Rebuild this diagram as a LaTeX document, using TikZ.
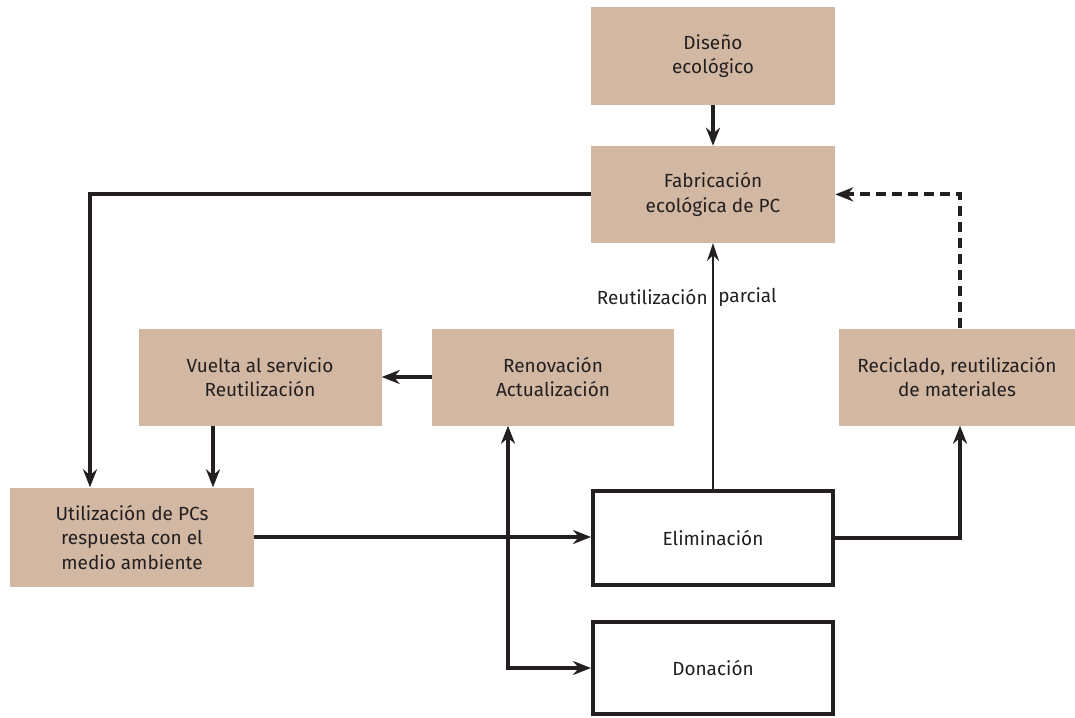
\documentclass[tikz,border=0pt]{standalone}
\usepackage{fontspec}
\setmainfont{Fira Sans}
\usetikzlibrary{positioning,arrows.meta,calc}
\definecolor{tan}{RGB}{210,184,162}
\definecolor{ink}{RGB}{35,31,32}

\begin{document}
\begin{tikzpicture}[
            x=1pt, y=-1pt,
            every node/.style={ align=center, text=ink, font=\fontsize{19}{24.5}\selectfont },
            tanbox/.style={ fill=tan, minimum width=244pt, minimum height=97pt, inner sep=0pt },
            whitebox/.style={ draw=ink, line width=4pt, fill=white, minimum width=240pt, minimum height=94pt, inner sep=0pt },
            arr/.style={ draw=ink, line width=4pt, -{Stealth[length=18pt,width=14pt]} },
            thinarr/.style={ draw=ink, line width=2pt, -{Stealth[length=18pt,width=12pt]} }
        ]
        \useasboundingbox (0,0) rectangle (1075,717);

        \node[tanbox] (dis) at (713,56) {Diseño\\ecológico};
        \node[tanbox, below=41pt of dis] (fab) {Fabricación\\ecológica de PC};
        \node[tanbox, minimum width=243pt] (vue) at (260,377) {Vuelta al servicio\\Reutilización};
        \node[tanbox, minimum width=242pt] (ren) at (553,377) {Renovación\\Actualización};
        \node[tanbox, minimum width=237pt] (rec) at (957,377) {Reciclado, reutilización\\de materiales};
        \node[tanbox, minimum height=99pt] (uti) at (132,537) {Utilización de PCs\\respuesta con el\\medio ambiente};
        \node[whitebox] (eli) at (713,538) {Eliminación};
        \node[whitebox, minimum height=92pt] (don) at (713,668) {Donación};

        \coordinate (k1) at (90,0);

        \draw[arr] (dis) -- (fab);
        \draw[arr] (fab.west) -| (k1 |- uti.north);
        \draw[arr] ([xshift=-47pt]vue.south) -- ([xshift=-47pt]vue.south |- uti.north);
        \draw[arr] (ren) -- (vue);
        \draw[arr] (uti.east) -- (eli.west |- uti.east);
        \draw[thinarr] (eli) -- (fab)
            node[pos=0.78, left=1pt] {Reutilización}
            node[pos=0.78, right=1pt] {parcial};
        \draw[arr] (eli.east) -| ([xshift=3pt]rec.south);
        \draw[arr, dash pattern=on 10pt off 6pt] ([xshift=3pt]rec.north) |- (fab.east);
        \draw[arr, {Stealth[length=18pt,width=14pt]}-{Stealth[length=18pt,width=14pt]}]
            ([xshift=-45pt]ren.south) |- (don.west);
    \end{tikzpicture}
\end{document}
